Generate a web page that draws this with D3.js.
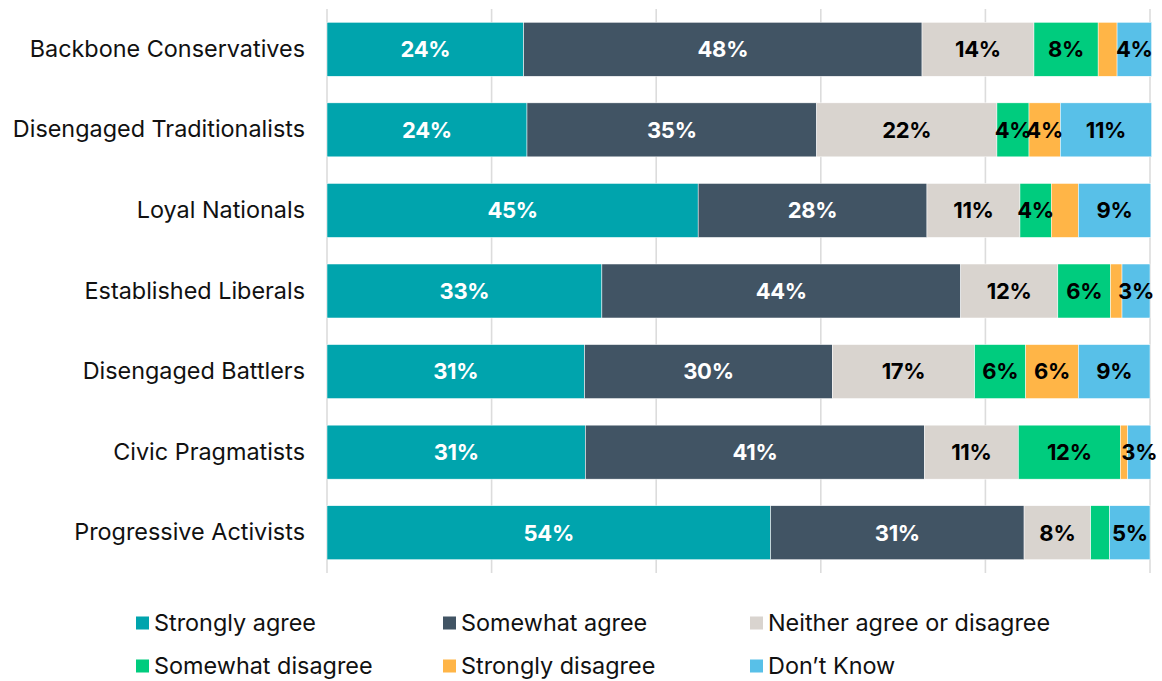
<!DOCTYPE html>
<html>
<head>
<meta charset="utf-8">
<script src="https://cdn.jsdelivr.net/npm/d3@7"></script>
<style>
  body { margin: 0; background: #fff; }
  svg { display: block; font-family: Inter, "Noto Sans", sans-serif; }
</style>
</head>
<body>
<div id="chart"></div>
<script>
// data (percent of each segment)
const categories = [
  'Backbone Conservatives',
  'Disengaged Traditionalists',
  'Loyal Nationals',
  'Established Liberals',
  'Disengaged Battlers',
  'Civic Pragmatists',
  'Progressive Activists'
];
const seriesNames = ['Strongly agree', 'Somewhat agree', 'Neither agree or disagree',
  'Somewhat disagree', 'Strongly disagree', 'Don\u2019t Know'];
const stronglyAgree    = [23.9, 24.3, 45.1, 33.4, 31.3, 31.4, 53.9];
const somewhatAgree    = [48.4, 35.2, 27.8, 43.6, 30.1, 41.2, 30.8];
const neither          = [13.6, 21.9, 11.3, 11.8, 17.3, 11.4, 8.1];
const somewhatDisagree = [7.8, 3.9, 3.8, 6.4, 6.2, 12.4, 2.3];
const stronglyDisagree = [2.3, 3.8, 3.3, 1.4, 6.4, 0.9, 0];
const dontKnow         = [4.2, 11.1, 8.8, 3.4, 8.7, 2.8, 4.9];
const xTicks = [0, 20, 40, 60, 80, 100];
// segments left without a label in the original
const unlabelled = [['Loyal Nationals', 'Strongly disagree']];

const colors = ['#00a4ad', '#415464', '#d9d4cf', '#00cc7e', '#ffb547', '#58c0e8'];
const labelColors = ['#fff', '#fff', '#000', '#000', '#000', '#000'];

const width = 1162, height = 681;
const margin = { left: 327, right: 12, top: 9, bottom: 108 };

const table = categories.map((c, i) => ({
  category: c,
  'Strongly agree': stronglyAgree[i],
  'Somewhat agree': somewhatAgree[i],
  'Neither agree or disagree': neither[i],
  'Somewhat disagree': somewhatDisagree[i],
  'Strongly disagree': stronglyDisagree[i],
  'Don\u2019t Know': dontKnow[i]
}));

const svg = d3.select('#chart').append('svg')
  .attr('width', width)
  .attr('height', height);

const x = d3.scaleLinear().domain([0, 100]).range([margin.left, width - margin.right]);
const y = d3.scaleBand().domain(categories)
  .range([margin.top, height - margin.bottom])
  .paddingInner(0.33).paddingOuter(0.165);
const color = d3.scaleOrdinal().domain(seriesNames).range(colors);

// gridlines
svg.append('g')
  .selectAll('line')
  .data(xTicks)
  .join('line')
  .attr('x1', d => x(d)).attr('x2', d => x(d))
  .attr('y1', margin.top).attr('y2', height - margin.bottom)
  .attr('stroke', '#dcdcdc')
  .attr('stroke-width', 1.6);

const stack = d3.stack().keys(seriesNames);
const layers = stack(table);

const layer = svg.append('g')
  .selectAll('g')
  .data(layers)
  .join('g')
  .attr('fill', d => color(d.key));

layer.selectAll('rect')
  .data(d => d.map(p => Object.assign(p, { key: d.key })))
  .join('rect')
  .attr('x', d => x(d[0]))
  .attr('width', d => x(d[1]) - x(d[0]))
  .attr('y', d => y(d.data.category))
  .attr('height', y.bandwidth())
  .attr('stroke', '#fff')
  .attr('stroke-width', 0.5);

const isHidden = d => d[1] - d[0] < 2.5 ||
  unlabelled.some(u => u[0] === d.data.category && u[1] === d.key);

svg.append('g')
  .selectAll('g')
  .data(layers)
  .join('g')
  .attr('fill', (d, i) => labelColors[i])
  .selectAll('text')
  .data(d => d.filter(p => !isHidden(p)))
  .join('text')
  .attr('x', d => (x(d[0]) + x(d[1])) / 2)
  .attr('y', d => y(d.data.category) + y.bandwidth() / 2)
  .attr('dy', '0.36em')
  .attr('text-anchor', 'middle')
  .attr('font-size', 22)
  .attr('font-weight', 700)
  .attr('letter-spacing', -0.3)
  .text(d => Math.round(d[1] - d[0]) + '%');

// category axis
const yAxis = svg.append('g')
  .attr('transform', `translate(${margin.left - 22},0)`)
  .call(d3.axisLeft(y).tickSize(0).tickPadding(0));
yAxis.select('.domain').remove();
yAxis.selectAll('text')
  .attr('font-size', 23.4)
  .attr('font-family', 'Inter, "Noto Sans", sans-serif')
  .attr('fill', '#111');

// legend
const legend = svg.append('g')
  .selectAll('g')
  .data(seriesNames)
  .join('g')
  .attr('transform', (d, i) => `translate(${136 + (i % 3) * 307},${623 + Math.floor(i / 3) * 43})`);

legend.append('rect')
  .attr('x', 0).attr('y', -6.5)
  .attr('width', 13).attr('height', 13)
  .attr('fill', d => color(d));

legend.append('text')
  .attr('x', 18)
  .attr('dy', '0.36em')
  .attr('font-size', 23.4)
  .attr('fill', '#111')
  .text(d => d);
</script>
</body>
</html>
